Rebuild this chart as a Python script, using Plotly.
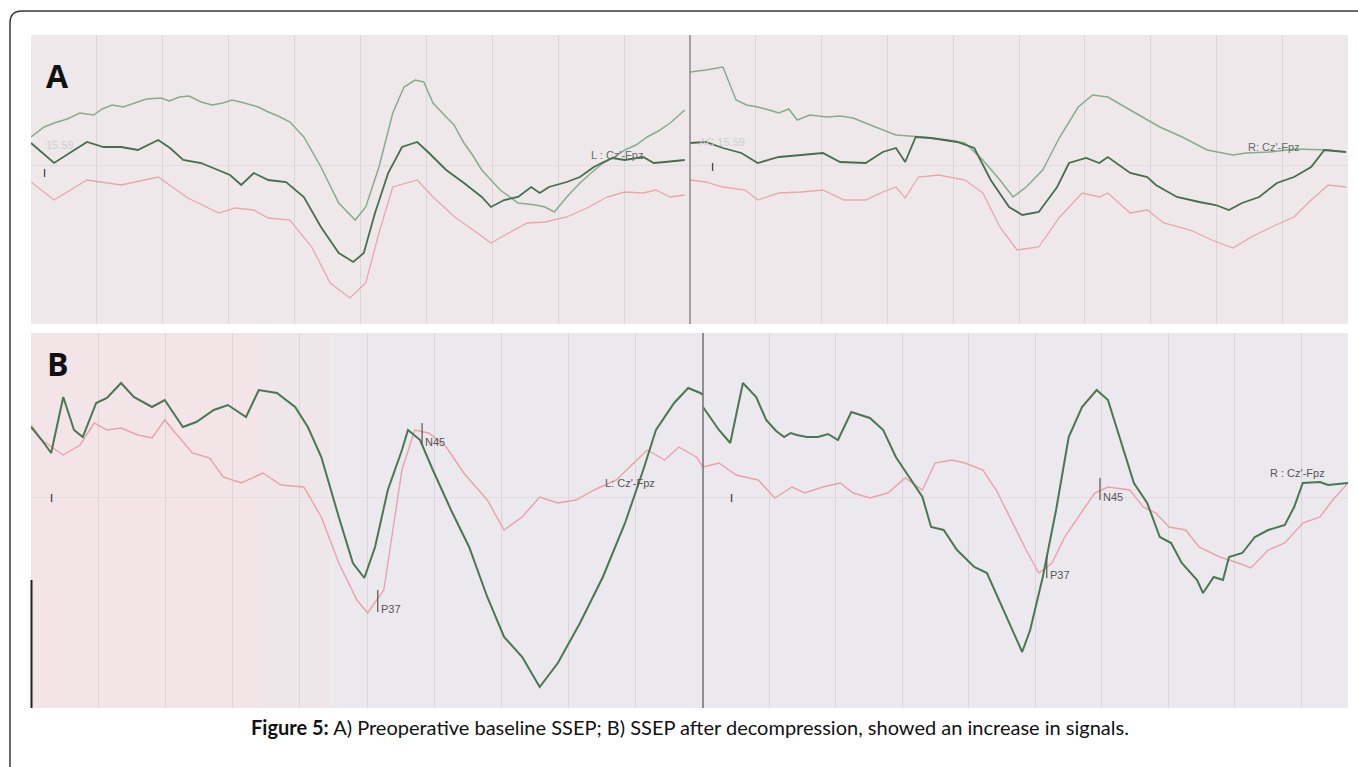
import plotly.graph_objects as go

# ---------------- data (time in ms per half-sweep, amplitude in a.u.) ----------------
# Panel A, left (L: Cz'-Fpz)
a_l_up_t = [0, 2.0, 3.5, 5.5, 7.4, 9.5, 10.8, 12.3, 14.0, 15.6, 17.5, 19.7, 21.0, 22.5, 24.0, 25.8, 27.5, 29.1, 30.5, 31.8, 33.2, 34.5, 36.0, 37.5, 39.3, 41.4, 44.0, 46.7, 49.2, 50.8, 52.8, 54.9, 56.6, 58.3, 59.6, 61.0, 63.0, 64.2, 65.7, 67.0, 68.4, 71.2, 73.9, 76.6, 78.0, 79.4, 81.3, 83.3, 85.0, 86.8, 88.5, 90.1, 91.8, 93.5, 95.2, 97.0, 99.2]
a_l_up_v = [2.8, 3.8, 4.2, 4.6, 5.2, 5.0, 5.6, 6.0, 5.8, 6.2, 6.6, 6.7, 6.4, 6.8, 6.9, 6.3, 6.0, 6.2, 6.5, 6.3, 6.0, 5.8, 5.3, 4.9, 4.3, 2.8, -0.2, -3.8, -5.5, -4.2, -0.2, 5.2, 7.8, 8.5, 8.3, 6.2, 4.8, 4.0, 2.2, 1.0, -0.5, -2.5, -3.8, -4.0, -4.2, -4.7, -3.2, -1.8, -0.8, 0.2, 0.8, 1.5, 2.0, 2.8, 3.4, 4.2, 5.5]
a_l_mid_t = [0, 3.5, 6.1, 8.5, 11.0, 13.7, 16.2, 19.3, 21.1, 23.1, 25.8, 28.5, 30.2, 31.9, 33.8, 36.0, 38.7, 41.4, 44.0, 46.7, 48.9, 50.5, 52.2, 54.2, 56.3, 58.6, 60.4, 63.0, 65.7, 68.4, 69.8, 71.8, 73.9, 75.9, 77.2, 78.6, 81.3, 83.3, 85.4, 88.2, 90.1, 92.9, 94.5, 96.2, 99.2]
a_l_mid_v = [2.2, 0.2, 1.3, 2.3, 1.8, 1.8, 1.5, 2.5, 1.7, 0.5, 0.2, -0.5, -1.0, -2.0, -0.8, -1.5, -1.7, -3.2, -6.2, -8.8, -9.7, -8.8, -4.8, -0.8, 1.8, 2.3, 1.2, -0.5, -1.8, -3.2, -4.2, -3.5, -3.2, -2.2, -2.8, -2.2, -1.7, -1.2, -0.2, 0.7, 0.5, 0.8, 0.2, 0.3, 0.5]
a_l_pk_t = [0, 3.5, 8.5, 13.7, 19.3, 23.8, 28.5, 31.0, 33.8, 36.0, 39.3, 42.6, 45.4, 48.4, 50.8, 52.8, 54.9, 58.6, 61.0, 64.3, 67.1, 69.8, 72.5, 75.3, 78.0, 81.3, 84.7, 87.4, 90.1, 92.9, 94.8, 97.0, 99.2]
a_l_pk_v = [-1.7, -3.5, -1.5, -2.0, -1.2, -3.3, -4.8, -4.3, -4.5, -5.3, -5.5, -8.2, -11.8, -13.3, -11.8, -6.8, -2.2, -1.5, -3.2, -5.2, -6.5, -7.8, -6.8, -5.8, -5.7, -5.2, -4.2, -3.2, -2.7, -2.8, -2.5, -3.2, -3.0]

# Panel A, right (R: Cz'-Fpz)
a_r_up_t = [0, 2.4, 5.0, 7.0, 8.6, 10.3, 12.0, 13.5, 15.0, 16.3, 18.2, 20.8, 22.8, 24.8, 27.4, 31.3, 35.3, 39.2, 41.8, 44.5, 47.1, 49.1, 51.1, 53.6, 56.2, 59.0, 61.2, 63.5, 66.1, 68.8, 71.4, 74.8, 78.6, 82.5, 84.5, 88.0, 92.0, 97.0, 99.7]
a_r_up_v = [9.3, 9.5, 9.8, 6.5, 6.0, 5.8, 5.5, 5.2, 5.6, 4.5, 5.0, 4.8, 4.9, 4.7, 4.0, 3.0, 2.8, 2.5, 2.2, 0.5, -1.5, -3.2, -2.2, -0.5, 2.8, 5.8, 7.0, 6.8, 5.8, 4.8, 3.8, 2.8, 1.5, 1.0, 1.2, 1.3, 1.6, 1.5, 1.3]
a_r_mid_t = [0, 2.4, 5.0, 7.8, 10.3, 13.5, 16.9, 20.2, 22.8, 26.7, 29.3, 31.3, 32.7, 34.3, 36.6, 40.6, 43.2, 45.7, 48.5, 50.5, 53.0, 55.8, 57.6, 60.2, 62.2, 63.5, 66.9, 69.5, 70.8, 74.0, 77.4, 79.9, 81.9, 83.9, 86.5, 89.2, 91.8, 94.4, 96.4, 99.7]
a_r_mid_v = [2.2, 2.3, 1.7, 1.2, 0.2, 0.8, 1.0, 1.2, 0.3, 0.2, 1.3, 1.7, 0.3, 2.8, 2.7, 2.3, 1.7, -1.5, -4.2, -5.0, -4.7, -2.2, 0.2, 0.7, 0.2, 0.8, -0.8, -1.2, -2.0, -3.2, -3.7, -4.0, -4.5, -3.8, -3.2, -1.8, -1.2, -0.2, 1.5, 1.3]
a_r_pk_t = [0, 2.4, 5.0, 8.4, 10.3, 13.5, 16.9, 20.2, 23.4, 26.7, 29.3, 31.3, 32.7, 34.7, 37.8, 41.8, 44.5, 47.1, 49.7, 53.0, 56.2, 59.6, 62.2, 63.5, 66.9, 69.5, 72.0, 76.0, 79.3, 82.5, 85.3, 88.4, 91.8, 94.4, 97.0, 99.7]
a_r_pk_v = [-1.5, -1.7, -2.2, -2.5, -3.5, -2.8, -2.7, -2.5, -3.5, -3.5, -2.7, -2.2, -3.3, -1.2, -1.0, -1.5, -2.8, -6.2, -8.5, -8.2, -5.2, -2.8, -3.2, -2.8, -4.8, -4.5, -5.8, -6.5, -7.5, -8.3, -7.2, -6.2, -5.2, -3.5, -2.0, -2.2]

# Panel B, left (L: Cz'-Fpz)
b_l_gr_t = [0, 1.6, 3.0, 4.8, 6.4, 7.7, 9.7, 11.3, 13.4, 15.3, 18.0, 19.9, 22.6, 24.6, 27.2, 29.3, 32.0, 33.9, 36.6, 39.3, 41.2, 43.2, 45.8, 47.9, 49.6, 51.2, 53.1, 55.2, 56.1, 57.9, 59.8, 62.5, 65.2, 67.9, 70.4, 73.1, 75.7, 78.4, 81.7, 85.1, 88.4, 91.1, 93.0, 95.7, 97.8, 99.6, 100]
b_l_gr_v = [7.0, 5.7, 4.4, 10.0, 6.7, 6.0, 9.4, 9.9, 11.4, 10.0, 9.0, 9.7, 7.0, 7.5, 8.7, 9.2, 8.0, 10.7, 10.4, 9.0, 7.0, 4.0, -2.0, -6.6, -8.1, -5.0, 0.7, 4.7, 6.7, 5.7, 2.7, -1.3, -5.0, -10.0, -14.0, -16.0, -19.0, -16.6, -12.6, -8.0, -2.6, 2.7, 6.7, 9.4, 10.9, 10.4, 10.2]
b_l_pk_t = [0, 1.6, 4.8, 7.3, 9.4, 11.3, 13.4, 15.9, 18.0, 19.9, 22.0, 24.0, 26.6, 28.6, 31.3, 34.5, 37.2, 40.6, 43.2, 45.8, 48.5, 50.1, 52.5, 53.9, 55.2, 57.1, 59.2, 61.8, 64.4, 67.9, 70.4, 73.1, 75.7, 78.4, 81.1, 83.8, 87.1, 89.7, 91.7, 94.3, 96.4, 99.0, 100]
b_l_pk_v = [7.2, 5.7, 4.2, 5.2, 7.4, 6.7, 6.9, 6.2, 5.9, 7.7, 6.0, 4.4, 3.9, 2.0, 1.4, 2.4, 1.2, 1.0, -2.0, -6.6, -10.3, -11.6, -9.3, -3.3, 2.7, 6.7, 6.4, 5.0, 2.4, -0.3, -3.3, -2.0, 0.0, -0.6, -0.3, 0.7, 1.7, 3.4, 4.7, 3.7, 5.0, 4.0, 3.0]

# Panel B, right (R: Cz'-Fpz)
b_r_gr_t = [0, 2.4, 4.1, 6.0, 8.0, 9.5, 11.0, 12.2, 13.2, 14.1, 15.6, 17.3, 18.8, 20.3, 22.3, 25.1, 27.1, 29.0, 31.0, 33.0, 34.3, 36.2, 38.2, 40.8, 42.7, 44.7, 46.6, 48.0, 49.2, 51.1, 53.1, 55.0, 57.0, 59.2, 60.9, 62.9, 64.8, 66.8, 68.7, 70.4, 72.0, 74.3, 75.2, 76.8, 78.2, 79.1, 81.1, 83.0, 85.0, 87.5, 88.9, 90.2, 92.8, 94.0, 97.0]
b_r_gr_v = [9.0, 6.7, 5.4, 11.4, 10.0, 7.7, 6.6, 6.0, 6.4, 6.2, 6.0, 6.0, 6.3, 5.7, 8.5, 7.9, 6.7, 4.0, 2.0, 0.0, -3.0, -3.3, -5.3, -7.0, -7.6, -10.6, -13.3, -15.5, -13.3, -8.0, -1.3, 6.0, 9.0, 10.7, 9.7, 5.4, 1.4, -0.6, -4.0, -4.6, -6.6, -8.3, -9.6, -8.0, -8.3, -6.0, -5.6, -4.0, -3.3, -2.8, -1.0, 1.4, 1.5, 1.2, 1.4]
b_r_pk_t = [0, 2.4, 5.0, 8.3, 10.8, 13.4, 15.3, 18.0, 20.6, 22.6, 25.1, 27.8, 30.4, 33.0, 34.9, 37.4, 39.4, 42.1, 44.1, 46.6, 48.6, 50.5, 52.5, 54.4, 56.4, 58.9, 60.9, 64.2, 66.2, 68.1, 70.1, 72.6, 74.6, 77.7, 80.5, 82.4, 85.0, 87.5, 90.2, 92.8, 94.7, 97.0]
b_r_pk_v = [3.0, 3.4, 2.2, 1.7, -0.1, 1.0, 0.4, 1.0, 1.4, 0.4, -0.1, 0.4, 1.9, 0.7, 3.4, 3.7, 3.4, 2.7, 0.7, -2.6, -5.3, -7.6, -6.6, -4.0, -2.0, 0.4, 1.0, 0.7, -1.0, -1.6, -3.0, -3.3, -5.0, -6.0, -6.6, -7.1, -5.3, -4.6, -2.6, -2.0, -0.3, 1.4]

# Peak markers (label, t, v_top, v_bottom) for panel B
b_l_peaks = [("N45", 58.2, 7.4, 5.2), ("P37", 51.6, -9.3, -11.5)]
b_r_peaks = [("N45", 59.7, 1.9, -0.3), ("P37", 51.7, -5.8, -8.1)]

caption_bold = "Figure 5:"
caption_text = " A) Preoperative baseline SSEP; B) SSEP after decompression, showed an increase in signals."

# ---------------- figure ----------------
W, H = 1358, 767
def px(x): return x / W
def py(y): return 1 - y / H

LIGHT_GREEN = "#88ab8e"
DARK_GREEN = "#466d4f"
PINK = "#e7a7ad"
B_GREEN = "#4a7653"
B_PINK = "#e9a2a9"

fig = go.Figure()

def add(t, v, ax, color, width):
    fig.add_trace(go.Scatter(x=t, y=v, xaxis="x" + ax, yaxis="y" + ax, mode="lines",
                             line=dict(color=color, width=width, shape="linear"),
                             hoverinfo="skip", showlegend=False))

add(a_l_pk_t, a_l_pk_v, "", PINK, 1.3)
add(a_l_up_t, a_l_up_v, "", LIGHT_GREEN, 1.5)
add(a_l_mid_t, a_l_mid_v, "", DARK_GREEN, 1.8)
add(a_r_pk_t, a_r_pk_v, "2", PINK, 1.3)
add(a_r_up_t, a_r_up_v, "2", LIGHT_GREEN, 1.5)
add(a_r_mid_t, a_r_mid_v, "2", DARK_GREEN, 1.8)
add(b_l_pk_t, b_l_pk_v, "3", B_PINK, 1.4)
add(b_l_gr_t, b_l_gr_v, "3", B_GREEN, 2.0)
add(b_r_pk_t, b_r_pk_v, "4", B_PINK, 1.4)
add(b_r_gr_t, b_r_gr_v, "4", B_GREEN, 2.0)

# peak tick marks
for peaks, ax in ((b_l_peaks, "3"), (b_r_peaks, "4")):
    for lab, t, v0, v1 in peaks:
        fig.add_trace(go.Scatter(x=[t, t], y=[v0, v1], xaxis="x" + ax, yaxis="y" + ax,
                                 mode="lines", line=dict(color="#555555", width=1.2),
                                 hoverinfo="skip", showlegend=False))

grid = "#dbd5da"
def xax(dom, rng):
    return dict(domain=dom, range=rng, showticklabels=False, ticks="", showgrid=True,
                gridcolor=grid, gridwidth=1, dtick=10, tick0=0, zeroline=False,
                showline=False, fixedrange=True)
def yax(dom, rng, anchor):
    return dict(domain=dom, range=rng, showticklabels=False, ticks="", showgrid=False,
                zeroline=True, zerolinecolor="#e2dce0", zerolinewidth=1, showline=False,
                anchor=anchor, fixedrange=True)

A_Y = [py(324), py(35)]
B_Y = [py(708), py(333)]
fig.update_layout(
    width=W, height=H, margin=dict(l=0, r=0, t=0, b=0),
    paper_bgcolor="white", plot_bgcolor="rgba(0,0,0,0)",
    xaxis=xax([px(31), px(690)], [0, 100]) | dict(anchor="y"),
    xaxis2=xax([px(690), px(1348)], [0, 100]) | dict(anchor="y2"),
    xaxis3=xax([px(31), px(703)], [0, 100]) | dict(anchor="y3"),
    xaxis4=xax([px(703), px(1348)], [0, 97]) | dict(anchor="y4"),
    yaxis=yax(A_Y, [-15.9, 13.0], "x"),
    yaxis2=yax(A_Y, [-15.9, 13.0], "x2"),
    yaxis3=yax(B_Y, [-21.1, 16.4], "x3"),
    yaxis4=yax(B_Y, [-21.1, 16.4], "x4"),
)

shapes = []
# outer rounded frame (right/bottom run off the page)
r = 12
x0, y0, x1, y1 = 10, 11, 1375, 790
path = (f"M {px(x0)},{py(y1)} L {px(x0)},{py(y0 + r)} "
        f"Q {px(x0)},{py(y0)} {px(x0 + r)},{py(y0)} L {px(x1)},{py(y0)}")
shapes.append(dict(type="path", path=path, xref="paper", yref="paper",
                   line=dict(color="#3a3a3a", width=1.5), layer="below"))
# panel backgrounds
shapes.append(dict(type="rect", xref="paper", yref="paper", x0=px(31), x1=px(1348),
                   y0=py(324), y1=py(35), fillcolor="#eee8eb", line_width=0, layer="below"))
shapes.append(dict(type="rect", xref="paper", yref="paper", x0=px(31), x1=px(1348),
                   y0=py(708), y1=py(333), fillcolor="#ebe8ee", line_width=0, layer="below"))
shapes.append(dict(type="rect", xref="paper", yref="paper", x0=px(31), x1=px(260),
                   y0=py(708), y1=py(333), fillcolor="#f2e4e7", line_width=0, layer="below"))
shapes.append(dict(type="rect", xref="paper", yref="paper", x0=px(260), x1=px(330),
                   y0=py(708), y1=py(333), fillcolor="#efe6ea", line_width=0, layer="below"))
# sweep dividers
shapes.append(dict(type="line", xref="paper", yref="paper", x0=px(690), x1=px(690),
                   y0=py(324), y1=py(35), line=dict(color="#8a8a8a", width=1.5)))
shapes.append(dict(type="line", xref="paper", yref="paper", x0=px(703), x1=px(703),
                   y0=py(708), y1=py(333), line=dict(color="#777777", width=1.6)))
# dark left edge of panel B (photo edge)
shapes.append(dict(type="line", xref="paper", yref="paper", x0=px(31.5), x1=px(31.5),
                   y0=py(708), y1=py(580), line=dict(color="#222222", width=2)))
fig.update_layout(shapes=shapes)

ann = []
def note(text, x, y, ax, size=11, color="#555555", xanchor="left"):
    ann.append(dict(text=text, x=x, y=y, xref="x" + ax, yref="y" + ax, showarrow=False,
                    xanchor=xanchor, yanchor="middle",
                    font=dict(family="Liberation Sans, Arial", size=size, color=color)))

note("L : Cz'-Fpz", 84.7, 1.0, "", 11, "#5d6d62")
note("R: Cz'-Fpz", 84.5, 1.8, "2", 11, "#5d6d62")
note("15.59", 2.0, 2.0, "", 11, "#cfcfd2")
note("AC 15.59", 1.0, 2.3, "2", 11, "#cfcfd2")
note("I", 1.5, -0.8, "", 11, "#222222")
note("I", 2.9, -0.2, "2", 11, "#222222")
note("I", 2.5, -0.1, "3", 11, "#222222")
note("I", 3.8, -0.1, "4", 11, "#222222")
note("L: Cz'-Fpz", 85.1, 1.4, "3", 11, "#555555")
note("R : Cz'-Fpz", 85.0, 2.4, "4", 11, "#555555")
for peaks, ax in ((b_l_peaks, "3"), (b_r_peaks, "4")):
    for lab, t, v0, v1 in peaks:
        note(lab, t + 0.2, v1 + 0.3, ax, 11, "#555555")

# panel letters
ann.append(dict(text="<b>A</b>", x=px(44), y=py(75), xref="paper", yref="paper",
                showarrow=False, xanchor="left", yanchor="middle",
                font=dict(family="Open Sans, Liberation Sans", size=32, color="#111111")))
ann.append(dict(text="<b>B</b>", x=px(45), y=py(363), xref="paper", yref="paper",
                showarrow=False, xanchor="left", yanchor="middle",
                font=dict(family="Open Sans, Liberation Sans", size=32, color="#111111")))
# caption
ann.append(dict(text=f"<b>{caption_bold}</b>{caption_text}", x=px(690), y=py(727),
                xref="paper", yref="paper", showarrow=False, xanchor="center", yanchor="middle",
                font=dict(family="Lato, Open Sans", size=20, color="#111111")))
fig.update_layout(annotations=ann)

fig.write_html("out.html", config={"displayModeBar": False},
               post_script="document.body.style.margin='0';")
